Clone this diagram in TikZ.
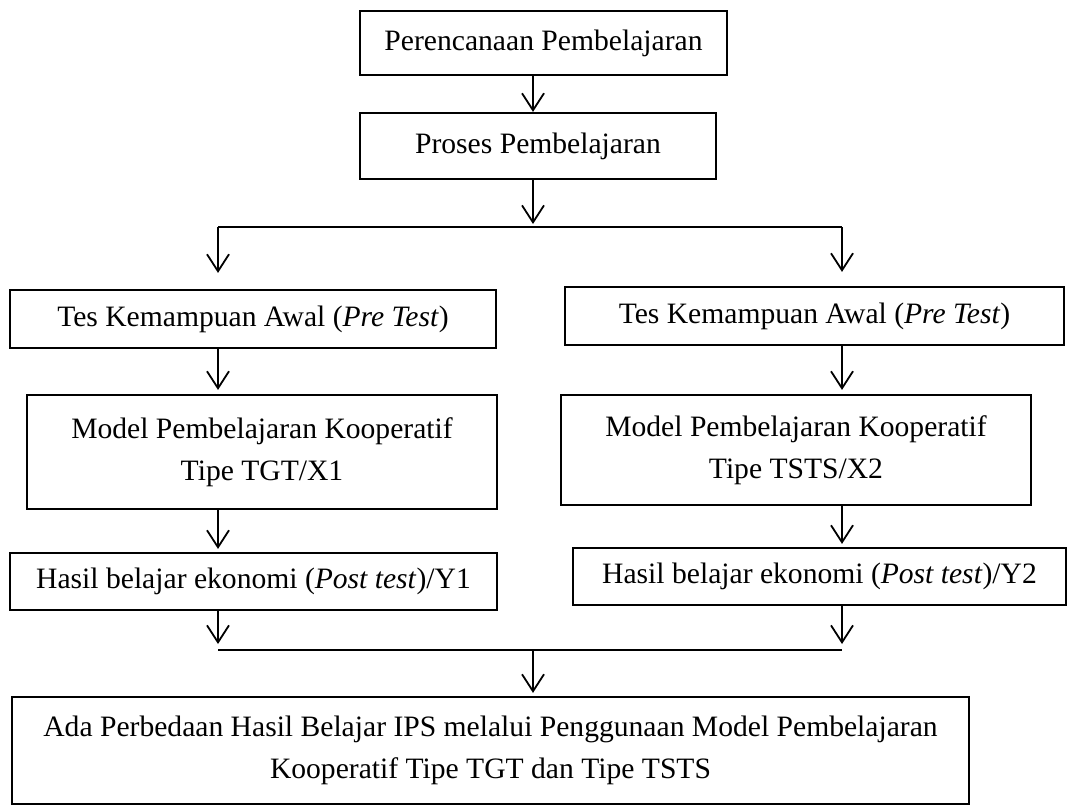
\documentclass[tikz,border=0pt]{standalone}
\usepackage{fontspec}
\setmainfont{Liberation Serif}
\usetikzlibrary{arrows.meta}
\begin{document}
\begin{tikzpicture}[x=1pt,y=-1pt,
  box/.style={draw,line width=2.2pt,inner sep=0pt,align=center,
    font=\fontsize{29.6}{42}\selectfont},
  conn/.style={line width=1.8pt},
  arr/.style={conn,-{Straight Barb[length=17pt,width=22pt,line width=1.8pt]}}]
\useasboundingbox (0,0) rectangle (1068,807);
\node[box,minimum width=367pt,minimum height=64pt] (b1) at (543.5,43) {Perencanaan Pembelajaran};
\node[box,minimum width=356pt,minimum height=66pt] (b2) at (538,146) {Proses Pembelajaran};
\node[box,minimum width=486pt,minimum height=58pt] (tesL) at (253,319) {Tes Kemampuan Awal (\textit{Pre Test})};
\node[box,minimum width=499pt,minimum height=58pt] (tesR) at (814.5,316) {Tes Kemampuan Awal (\textit{Pre Test})};
\node[box,minimum width=470pt,minimum height=114pt] (modL) at (262,452) {Model Pembelajaran Kooperatif\\Tipe TGT/X1};
\node[box,minimum width=470pt,minimum height=110pt] (modR) at (796,450) {Model Pembelajaran Kooperatif\\Tipe TSTS/X2};
\node[box,minimum width=487pt,minimum height=57pt] (hasL) at (253.5,581.5) {Hasil belajar ekonomi (\textit{Post test})/Y1};
\node[box,minimum width=493pt,minimum height=57pt] (hasR) at (819.5,576.5) {Hasil belajar ekonomi (\textit{Post test})/Y2};
\node[box,minimum width=957pt,minimum height=107pt] (fin) at (490.5,750.5) {Ada Perbedaan Hasil Belajar IPS melalui Penggunaan Model Pembelajaran\\Kooperatif Tipe TGT dan Tipe TSTS};
\coordinate (cx) at (533,0);
\coordinate (jt) at (533,227);
\coordinate (jl) at (218,227);
\coordinate (jr) at (842,227);
\coordinate (bl) at (218,650);
\coordinate (br) at (842,650);
\coordinate (bc) at (533,650);
\draw[arr] (b1.south -| cx) -- (b2.north -| cx);
\draw[arr,shorten >=3pt] (b2.south -| cx) -- (jt);
\draw[conn] (jl) -- (jr);
\draw[arr,shorten >=16pt] (jl) -- (tesL.north -| jl);
\draw[arr,shorten >=14pt] (jr) -- (tesR.north -| jr);
\draw[arr,shorten >=4pt] (tesL.south -| jl) -- (modL.north -| jl);
\draw[arr,shorten >=4pt] (tesR.south -| jr) -- (modR.north -| jr);
\draw[arr,shorten >=3pt] (modL.south -| jl) -- (hasL.north -| jl);
\draw[arr,shorten >=3pt] (modR.south -| jr) -- (hasR.north -| jr);
\draw[arr,shorten >=6pt] (hasL.south -| jl) -- (bl);
\draw[arr,shorten >=6pt] (hasR.south -| jr) -- (br);
\draw[conn] (bl) -- (br);
\draw[arr,shorten >=3pt] (bc) -- (fin.north -| cx);
\end{tikzpicture}
\end{document}
